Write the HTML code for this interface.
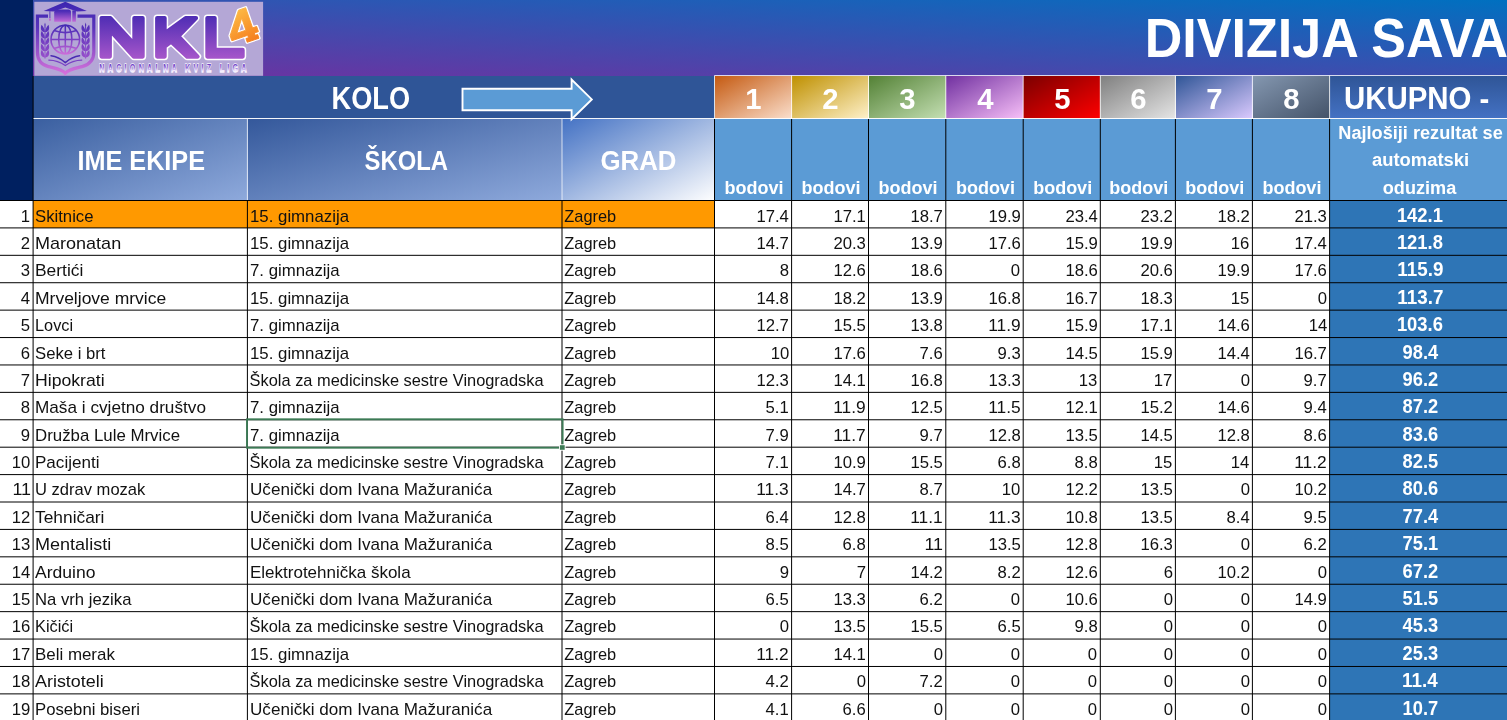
<!DOCTYPE html>
<html><head><meta charset="utf-8"><title>NKL4 - Divizija Sava</title>
<style>
html,body{margin:0;padding:0;background:#fff;}
body{width:1507px;height:720px;overflow:hidden;position:relative;font-family:"Liberation Sans",sans-serif;}
.b{position:absolute;}
.t{position:absolute;white-space:nowrap;line-height:1;display:block;}
svg.g{position:absolute;left:0;top:0;}
</style></head><body>
<div class="b" style="left:0px;top:0px;width:33px;height:201px;background:#002060;"></div>
<div class="b" style="left:33px;top:0px;width:1474px;height:76px;background:linear-gradient(to top right,#7030A0,#0070C0);"></div>
<div class="b" style="left:33px;top:76px;width:682px;height:43px;background:#2F5597;"></div>
<div class="b" style="left:33px;top:119px;width:215px;height:82px;background:linear-gradient(to bottom right,#3A5FA0,#8FAADC);"></div>
<div class="b" style="left:248px;top:119px;width:314px;height:82px;background:linear-gradient(to bottom right,#34589B,#8FAADC);"></div>
<div class="b" style="left:562px;top:119px;width:153px;height:82px;background:linear-gradient(to bottom right,#4472C4,#FFFFFF);"></div>
<div class="b" style="left:715px;top:119px;width:615px;height:82px;background:#5B9BD5;"></div>
<div class="b" style="left:1330px;top:119px;width:177px;height:82px;background:#5B9BD5;"></div>
<div class="b" style="left:715px;top:76px;width:77px;height:43px;background:linear-gradient(to bottom right,#C55A11,#FBE0CE);"></div>
<div class="b" style="left:792px;top:76px;width:77px;height:43px;background:linear-gradient(to bottom right,#BF9000,#FFF2CC);"></div>
<div class="b" style="left:869px;top:76px;width:77px;height:43px;background:linear-gradient(to bottom right,#538135,#C5E0B4);"></div>
<div class="b" style="left:946px;top:76px;width:77px;height:43px;background:linear-gradient(to bottom right,#7030A0,#F8C0F8);"></div>
<div class="b" style="left:1023px;top:76px;width:77px;height:43px;background:linear-gradient(to bottom right,#7A0000,#FF0000);"></div>
<div class="b" style="left:1100px;top:76px;width:76px;height:43px;background:linear-gradient(to bottom right,#7F7F7F,#E6E6E6);"></div>
<div class="b" style="left:1176px;top:76px;width:77px;height:43px;background:linear-gradient(to bottom right,#2F5597,#DCCBFF);"></div>
<div class="b" style="left:1253px;top:76px;width:77px;height:43px;background:linear-gradient(to bottom right,#8497B0,#435268);"></div>
<div class="b" style="left:1330px;top:76px;width:177px;height:43px;background:linear-gradient(to bottom,#2F5597,#4472C4);"></div>
<div class="b" style="left:33px;top:201px;width:682px;height:27px;background:#FF9900;"></div>
<div class="b" style="left:1330px;top:201px;width:177px;height:519px;background:#2E75B6;"></div>
<svg class="g" width="270" height="80" viewBox="0 0 270 80">
<defs>
<linearGradient id="lg" gradientUnits="userSpaceOnUse" x1="0" y1="2" x2="0" y2="75">
<stop offset="0" stop-color="#3a25b0"/><stop offset="0.35" stop-color="#5a33bb"/><stop offset="1" stop-color="#d873dc"/></linearGradient>
<linearGradient id="cg" gradientUnits="userSpaceOnUse" x1="0" y1="2" x2="0" y2="22">
<stop offset="0" stop-color="#3a25b0"/><stop offset="0.45" stop-color="#4a2bb6"/><stop offset="1" stop-color="#c46ad8"/></linearGradient>
<linearGradient id="gg" gradientUnits="userSpaceOnUse" x1="0" y1="24" x2="0" y2="55">
<stop offset="0" stop-color="#3f28b2"/><stop offset="0.5" stop-color="#7a3fc4"/><stop offset="1" stop-color="#d070da"/></linearGradient>
<linearGradient id="lfg" gradientUnits="userSpaceOnUse" x1="0" y1="22" x2="0" y2="59">
<stop offset="0" stop-color="#4a2bb6"/><stop offset="1" stop-color="#9a50cc"/></linearGradient>
<linearGradient id="ng" gradientUnits="userSpaceOnUse" x1="0" y1="14" x2="0" y2="60">
<stop offset="0" stop-color="#4a2bb3"/><stop offset="1" stop-color="#a957cb"/></linearGradient>
<linearGradient id="og" gradientUnits="userSpaceOnUse" x1="-4" y1="-17" x2="6" y2="17">
<stop offset="0" stop-color="#fdbb45"/><stop offset="1" stop-color="#f57f1f"/></linearGradient>
<linearGradient id="sg" gradientUnits="userSpaceOnUse" x1="0" y1="-8.4" x2="0" y2="0">
<stop offset="0" stop-color="#6a3cc4"/><stop offset="0.42" stop-color="#8c62d2"/><stop offset="0.78" stop-color="#e4d6f8"/><stop offset="1" stop-color="#ffffff"/></linearGradient>
</defs>
<rect x="34.3" y="1.8" width="228.8" height="74" fill="#b4a7d6"/>
<!-- shield -->
<path d="M48 16.2 L37.4 16.2 L37.4 52 C37.4 60 41.5 64.8 48.5 66.6 C55 68.2 61.5 69 65.3 73.2 C69.1 69 75.6 68.2 82.1 66.6 C89.1 64.8 93.8 60 93.8 52 L93.8 16.2 L77.5 16.2" fill="none" stroke="url(#lg)" stroke-width="3.2" stroke-linejoin="miter"/>
<!-- cap -->
<path d="M43.7 10.9 L65.3 1.7 L86.9 10.9 L77 11.6 L65.3 7.6 L53.5 11.6 Z" fill="url(#cg)"/>
<path d="M54.2 12.2 Q54.2 9.6 57 9.5 L68.5 9.5 Q71 9.6 71 12.2 L71 21.7 L54.2 21.7 Z" fill="url(#cg)"/>
<rect x="72.3" y="10.4" width="3.6" height="11.3" fill="url(#cg)"/>
<path d="M49.9 11.2 L49.9 18" stroke="url(#lg)" stroke-width="0.9"/>
<rect x="49.1" y="18.3" width="1.7" height="2.4" fill="#c060d0"/>
<!-- globe -->
<g fill="none" stroke="url(#gg)" stroke-width="1.55">
<circle cx="65.3" cy="39.5" r="14.3"/>
<ellipse cx="65.3" cy="39.5" rx="6.6" ry="14.3"/>
<path d="M65.3 25.2 L65.3 53.8"/>
<path d="M51 39.5 L79.6 39.5"/>
<path d="M54 30.6 Q65.3 34.6 76.6 30.6"/>
<path d="M54 48.4 Q65.3 44.4 76.6 48.4"/>
</g>
<!-- laurels -->
<path d="M45.0 58.6 L45.0 26.4" stroke="url(#lfg)" stroke-width="0.9" fill="none"/>
<path d="M45.0 32.07 C40.98 31.77 40.10 28.77 41.50 24.65 C42.90 26.23 44.65 28.45 45.0 32.07Z" fill="url(#lfg)"/>
<path d="M45.0 32.07 C49.02 31.77 49.90 28.77 48.50 24.65 C47.10 26.23 45.35 28.45 45.0 32.07Z" fill="url(#lfg)"/>
<path d="M45.0 38.41 C40.98 38.11 40.10 35.11 41.50 30.99 C42.90 32.57 44.65 34.79 45.0 38.41Z" fill="url(#lfg)"/>
<path d="M45.0 38.41 C49.02 38.11 49.90 35.11 48.50 30.99 C47.10 32.57 45.35 34.79 45.0 38.41Z" fill="url(#lfg)"/>
<path d="M45.0 44.75 C40.98 44.45 40.10 41.45 41.50 37.33 C42.90 38.91 44.65 41.13 45.0 44.75Z" fill="url(#lfg)"/>
<path d="M45.0 44.75 C49.02 44.45 49.90 41.45 48.50 37.33 C47.10 38.91 45.35 41.13 45.0 44.75Z" fill="url(#lfg)"/>
<path d="M45.0 51.09 C40.98 50.79 40.10 47.79 41.50 43.67 C42.90 45.25 44.65 47.47 45.0 51.09Z" fill="url(#lfg)"/>
<path d="M45.0 51.09 C49.02 50.79 49.90 47.79 48.50 43.67 C47.10 45.25 45.35 47.47 45.0 51.09Z" fill="url(#lfg)"/>
<path d="M45.0 57.43 C40.98 57.13 40.10 54.13 41.50 50.01 C42.90 51.59 44.65 53.81 45.0 57.43Z" fill="url(#lfg)"/>
<path d="M45.0 57.43 C49.02 57.13 49.90 54.13 48.50 50.01 C47.10 51.59 45.35 53.81 45.0 57.43Z" fill="url(#lfg)"/>
<path d="M45.0 27.9 Q43.5 25.4 45.0 22.599999999999998 Q46.5 25.4 45.0 27.9Z" fill="url(#lfg)"/>
<path d="M85.6 58.6 L85.6 26.4" stroke="url(#lfg)" stroke-width="0.9" fill="none"/>
<path d="M85.6 32.07 C81.57 31.77 80.70 28.77 82.10 24.65 C83.50 26.23 85.25 28.45 85.6 32.07Z" fill="url(#lfg)"/>
<path d="M85.6 32.07 C89.62 31.77 90.50 28.77 89.10 24.65 C87.70 26.23 85.95 28.45 85.6 32.07Z" fill="url(#lfg)"/>
<path d="M85.6 38.41 C81.57 38.11 80.70 35.11 82.10 30.99 C83.50 32.57 85.25 34.79 85.6 38.41Z" fill="url(#lfg)"/>
<path d="M85.6 38.41 C89.62 38.11 90.50 35.11 89.10 30.99 C87.70 32.57 85.95 34.79 85.6 38.41Z" fill="url(#lfg)"/>
<path d="M85.6 44.75 C81.57 44.45 80.70 41.45 82.10 37.33 C83.50 38.91 85.25 41.13 85.6 44.75Z" fill="url(#lfg)"/>
<path d="M85.6 44.75 C89.62 44.45 90.50 41.45 89.10 37.33 C87.70 38.91 85.95 41.13 85.6 44.75Z" fill="url(#lfg)"/>
<path d="M85.6 51.09 C81.57 50.79 80.70 47.79 82.10 43.67 C83.50 45.25 85.25 47.47 85.6 51.09Z" fill="url(#lfg)"/>
<path d="M85.6 51.09 C89.62 50.79 90.50 47.79 89.10 43.67 C87.70 45.25 85.95 47.47 85.6 51.09Z" fill="url(#lfg)"/>
<path d="M85.6 57.43 C81.57 57.13 80.70 54.13 82.10 50.01 C83.50 51.59 85.25 53.81 85.6 57.43Z" fill="url(#lfg)"/>
<path d="M85.6 57.43 C89.62 57.13 90.50 54.13 89.10 50.01 C87.70 51.59 85.95 53.81 85.6 57.43Z" fill="url(#lfg)"/>
<path d="M85.6 27.9 Q84.1 25.4 85.6 22.599999999999998 Q87.1 25.4 85.6 27.9Z" fill="url(#lfg)"/>
<!-- book -->
<g fill="none" stroke-linecap="round">
<path d="M51 55.8 Q58.5 56.8 65.3 62.6 Q72.1 56.8 79.6 55.8" stroke="#4a2bb3" stroke-width="1.4"/>
<path d="M48.8 60.1 Q58 60.2 65.3 65.6 Q72.6 60.2 81.8 60.1" stroke="#7a40c4" stroke-width="1.2"/>
</g>
<!-- NKL -->
<g stroke-linejoin="round">
<g fill="#fff" stroke="#fff" stroke-width="7.2">
<path id="pN" d="M101.6 56.6 L101.6 18.1 L110.4 18.1 L134.4 44.5 L134.4 18.1 L142.6 18.1 L142.6 56.6 L133.8 56.6 L109.8 30.2 L109.8 56.6 Z"/>
<path id="pK" d="M157.2 18.1 L164.6 18.1 L164.6 33.5 L185.6 18.1 L196 18.1 L178.3 36.3 L197.6 56.6 L187.2 56.6 L171.2 41.6 L164.6 46.6 L164.6 56.6 L157.2 56.6 Z"/>
<path id="pL" d="M207.4 18.1 L214.6 18.1 L214.6 49.9 L242.6 49.9 L242.6 56.6 L207.4 56.6 Z"/>
</g>
<g fill="url(#ng)" stroke="url(#ng)" stroke-width="4.2">
<use href="#pN"/><use href="#pK"/><use href="#pL"/>
</g>
</g>
<!-- 4 -->
<g transform="translate(241.4 27.0) rotate(-19) scale(1.08 0.99)">
<path id="p4" d="M2.5 -17 L9.5 -17 L9.5 4.5 L13.5 4.5 L13.5 10 L9.5 10 L9.5 12.5 L12 12.5 L12 16.5 L0.5 16.5 L0.5 12.5 L3 12.5 L3 10 L-12.5 10 L-12.5 4.6 Z M3 4.5 L3 -8.5 L-5.8 4.5 Z" fill="#fff" stroke="#fff" stroke-width="3.2" stroke-linejoin="round" fill-rule="evenodd"/>
<path d="M2.5 -17 L9.5 -17 L9.5 4.5 L13.5 4.5 L13.5 10 L9.5 10 L9.5 12.5 L12 12.5 L12 16.5 L0.5 16.5 L0.5 12.5 L3 12.5 L3 10 L-12.5 10 L-12.5 4.6 Z M3 4.5 L3 -8.5 L-5.8 4.5 Z" fill="url(#og)" stroke="url(#og)" stroke-width="0.8" stroke-linejoin="round" fill-rule="evenodd"/>
</g>
<!-- subtitle -->
<g transform="translate(99.3 72.2) scale(0.62 1)">
<text x="0" y="0" font-family="Liberation Sans, sans-serif" font-weight="bold" font-size="11.6" textLength="237.5" lengthAdjust="spacing" fill="url(#sg)" stroke="#f6f1fd" stroke-width="1.5" paint-order="stroke" xml:space="preserve">NACIONALNA KVIZ LIGA</text>
</g>
</svg>
<svg class="g" width="1507" height="720" viewBox="0 0 1507 720">
<line x1="33.1" y1="76" x2="33.1" y2="720" stroke="#000" stroke-width="1" stroke-opacity="1"/>
<line x1="247.4" y1="200" x2="247.4" y2="720" stroke="#000" stroke-width="1" stroke-opacity="1"/>
<line x1="562.0" y1="200" x2="562.0" y2="720" stroke="#000" stroke-width="1" stroke-opacity="1"/>
<line x1="714.5" y1="119" x2="714.5" y2="720" stroke="#000" stroke-width="1" stroke-opacity="1"/>
<line x1="791.6" y1="119" x2="791.6" y2="720" stroke="#000" stroke-width="1" stroke-opacity="1"/>
<line x1="868.5" y1="119" x2="868.5" y2="720" stroke="#000" stroke-width="1" stroke-opacity="1"/>
<line x1="945.8" y1="119" x2="945.8" y2="720" stroke="#000" stroke-width="1" stroke-opacity="1"/>
<line x1="1023.2" y1="119" x2="1023.2" y2="720" stroke="#000" stroke-width="1" stroke-opacity="1"/>
<line x1="1100.3" y1="119" x2="1100.3" y2="720" stroke="#000" stroke-width="1" stroke-opacity="1"/>
<line x1="1175.4" y1="119" x2="1175.4" y2="720" stroke="#000" stroke-width="1" stroke-opacity="1"/>
<line x1="1252.4" y1="119" x2="1252.4" y2="720" stroke="#000" stroke-width="1" stroke-opacity="1"/>
<line x1="1329.6" y1="119" x2="1329.6" y2="720" stroke="#000" stroke-width="1" stroke-opacity="1"/>
<line x1="0" y1="200.5" x2="1507" y2="200.5" stroke="#000" stroke-width="1" stroke-opacity="1"/>
<line x1="0" y1="227.91" x2="1507" y2="227.91" stroke="#000" stroke-width="1" stroke-opacity="1"/>
<line x1="0" y1="255.32" x2="1507" y2="255.32" stroke="#000" stroke-width="1" stroke-opacity="1"/>
<line x1="0" y1="282.73" x2="1507" y2="282.73" stroke="#000" stroke-width="1" stroke-opacity="1"/>
<line x1="0" y1="310.14" x2="1507" y2="310.14" stroke="#000" stroke-width="1" stroke-opacity="1"/>
<line x1="0" y1="337.55" x2="1507" y2="337.55" stroke="#000" stroke-width="1" stroke-opacity="1"/>
<line x1="0" y1="364.96000000000004" x2="1507" y2="364.96000000000004" stroke="#000" stroke-width="1" stroke-opacity="1"/>
<line x1="0" y1="392.37" x2="1507" y2="392.37" stroke="#000" stroke-width="1" stroke-opacity="1"/>
<line x1="0" y1="419.78" x2="1507" y2="419.78" stroke="#000" stroke-width="1" stroke-opacity="1"/>
<line x1="0" y1="447.19" x2="1507" y2="447.19" stroke="#000" stroke-width="1" stroke-opacity="1"/>
<line x1="0" y1="474.6" x2="1507" y2="474.6" stroke="#000" stroke-width="1" stroke-opacity="1"/>
<line x1="0" y1="502.01" x2="1507" y2="502.01" stroke="#000" stroke-width="1" stroke-opacity="1"/>
<line x1="0" y1="529.4200000000001" x2="1507" y2="529.4200000000001" stroke="#000" stroke-width="1" stroke-opacity="1"/>
<line x1="0" y1="556.8299999999999" x2="1507" y2="556.8299999999999" stroke="#000" stroke-width="1" stroke-opacity="1"/>
<line x1="0" y1="584.24" x2="1507" y2="584.24" stroke="#000" stroke-width="1" stroke-opacity="1"/>
<line x1="0" y1="611.65" x2="1507" y2="611.65" stroke="#000" stroke-width="1" stroke-opacity="1"/>
<line x1="0" y1="639.06" x2="1507" y2="639.06" stroke="#000" stroke-width="1" stroke-opacity="1"/>
<line x1="0" y1="666.47" x2="1507" y2="666.47" stroke="#000" stroke-width="1" stroke-opacity="1"/>
<line x1="0" y1="693.88" x2="1507" y2="693.88" stroke="#000" stroke-width="1" stroke-opacity="1"/>
<line x1="0" y1="721.29" x2="1507" y2="721.29" stroke="#000" stroke-width="1" stroke-opacity="1"/>
<line x1="33.5" y1="118.5" x2="1507" y2="118.5" stroke="#fff" stroke-width="1" stroke-opacity="0.95"/>
<line x1="714.5" y1="75.5" x2="1507" y2="75.5" stroke="#fff" stroke-width="1" stroke-opacity="0.8"/>
<line x1="714.5" y1="75.5" x2="714.5" y2="119" stroke="#fff" stroke-width="1" stroke-opacity="0.82"/>
<line x1="791.6" y1="75.5" x2="791.6" y2="119" stroke="#fff" stroke-width="1" stroke-opacity="0.82"/>
<line x1="868.5" y1="75.5" x2="868.5" y2="119" stroke="#fff" stroke-width="1" stroke-opacity="0.82"/>
<line x1="945.8" y1="75.5" x2="945.8" y2="119" stroke="#fff" stroke-width="1" stroke-opacity="0.82"/>
<line x1="1023.2" y1="75.5" x2="1023.2" y2="119" stroke="#fff" stroke-width="1" stroke-opacity="0.82"/>
<line x1="1100.3" y1="75.5" x2="1100.3" y2="119" stroke="#fff" stroke-width="1" stroke-opacity="0.82"/>
<line x1="1175.4" y1="75.5" x2="1175.4" y2="119" stroke="#fff" stroke-width="1" stroke-opacity="0.82"/>
<line x1="1252.4" y1="75.5" x2="1252.4" y2="119" stroke="#fff" stroke-width="1" stroke-opacity="0.82"/>
<line x1="1329.6" y1="75.5" x2="1329.6" y2="119" stroke="#fff" stroke-width="1" stroke-opacity="0.82"/>
<line x1="247.4" y1="119" x2="247.4" y2="200" stroke="#fff" stroke-width="1" stroke-opacity="0.75"/>
<line x1="562.0" y1="119" x2="562.0" y2="200" stroke="#fff" stroke-width="1" stroke-opacity="0.75"/>
<rect x="247.0" y="419.3" width="315.6" height="28.4" fill="none" stroke="#3c7a55" stroke-width="1.9"/>
<rect x="559.0" y="444.3" width="6.6" height="6.4" fill="#fff"/>
<rect x="559.9" y="445.2" width="4.8" height="4.6" fill="#3c7a55"/>
<path d="M462.5 88.8 L571.6 88.8 L571.6 79.5 L591.8 99.4 L571.6 119.3 L571.6 110.2 L462.5 110.2 Z" fill="#5B9BD5" stroke="#fff" stroke-width="1.9" stroke-linejoin="miter"/>
</svg>
<div id="tx" style="position:absolute;left:0;top:0;width:1507px;height:720px;will-change:transform;">
<span class="t" style="right:1476.40px;transform-origin:100% 0;top:208px;font-size:16.4px;color:#111;transform:scaleX(1.0185);">1</span>
<span class="t" style="left:35.10px;transform-origin:0 0;top:208px;font-size:16.4px;color:#111;transform:scaleX(1.0193);">Skitnice</span>
<span class="t" style="left:249.60px;transform-origin:0 0;top:208px;font-size:16.4px;color:#111;transform:scaleX(1.0253);">15. gimnazija</span>
<span class="t" style="left:564.30px;transform-origin:0 0;top:208px;font-size:16.4px;color:#111;">Zagreb</span>
<span class="t" style="right:718.10px;transform-origin:100% 0;top:208px;font-size:16.4px;color:#111;transform:scaleX(1.0181);">17.4</span>
<span class="t" style="right:641.20px;transform-origin:100% 0;top:208px;font-size:16.4px;color:#111;transform:scaleX(1.0181);">17.1</span>
<span class="t" style="right:563.90px;transform-origin:100% 0;top:208px;font-size:16.4px;color:#111;transform:scaleX(1.0181);">18.7</span>
<span class="t" style="right:486.50px;transform-origin:100% 0;top:208px;font-size:16.4px;color:#111;transform:scaleX(1.0181);">19.9</span>
<span class="t" style="right:409.40px;transform-origin:100% 0;top:208px;font-size:16.4px;color:#111;transform:scaleX(1.0181);">23.4</span>
<span class="t" style="right:334.30px;transform-origin:100% 0;top:208px;font-size:16.4px;color:#111;transform:scaleX(1.0181);">23.2</span>
<span class="t" style="right:257.30px;transform-origin:100% 0;top:208px;font-size:16.4px;color:#111;transform:scaleX(1.0181);">18.2</span>
<span class="t" style="right:180.10px;transform-origin:100% 0;top:208px;font-size:16.4px;color:#111;transform:scaleX(1.0181);">21.3</span>
<span class="t" style="left:1395.30px;transform-origin:50% 0;top:206px;font-size:19.9px;color:#fff;font-weight:bold;transform:scaleX(0.9237);">142.1</span>
<span class="t" style="right:1476.40px;transform-origin:100% 0;top:235px;font-size:16.4px;color:#111;transform:scaleX(1.0185);">2</span>
<span class="t" style="left:35.10px;transform-origin:0 0;top:235px;font-size:16.4px;color:#111;transform:scaleX(1.0995);">Maronatan</span>
<span class="t" style="left:249.60px;transform-origin:0 0;top:235px;font-size:16.4px;color:#111;transform:scaleX(1.0253);">15. gimnazija</span>
<span class="t" style="left:564.30px;transform-origin:0 0;top:235px;font-size:16.4px;color:#111;">Zagreb</span>
<span class="t" style="right:718.10px;transform-origin:100% 0;top:235px;font-size:16.4px;color:#111;transform:scaleX(1.0181);">14.7</span>
<span class="t" style="right:641.20px;transform-origin:100% 0;top:235px;font-size:16.4px;color:#111;transform:scaleX(1.0181);">20.3</span>
<span class="t" style="right:563.90px;transform-origin:100% 0;top:235px;font-size:16.4px;color:#111;transform:scaleX(1.0181);">13.9</span>
<span class="t" style="right:486.50px;transform-origin:100% 0;top:235px;font-size:16.4px;color:#111;transform:scaleX(1.0181);">17.6</span>
<span class="t" style="right:409.40px;transform-origin:100% 0;top:235px;font-size:16.4px;color:#111;transform:scaleX(1.0181);">15.9</span>
<span class="t" style="right:334.30px;transform-origin:100% 0;top:235px;font-size:16.4px;color:#111;transform:scaleX(1.0181);">19.9</span>
<span class="t" style="right:257.30px;transform-origin:100% 0;top:235px;font-size:16.4px;color:#111;transform:scaleX(1.0185);">16</span>
<span class="t" style="right:180.10px;transform-origin:100% 0;top:235px;font-size:16.4px;color:#111;transform:scaleX(1.0181);">17.4</span>
<span class="t" style="left:1395.30px;transform-origin:50% 0;top:233px;font-size:19.9px;color:#fff;font-weight:bold;transform:scaleX(0.9237);">121.8</span>
<span class="t" style="right:1476.40px;transform-origin:100% 0;top:262px;font-size:16.4px;color:#111;transform:scaleX(1.0185);">3</span>
<span class="t" style="left:35.10px;transform-origin:0 0;top:262px;font-size:16.4px;color:#111;transform:scaleX(1.0619);">Bertići</span>
<span class="t" style="left:249.60px;transform-origin:0 0;top:262px;font-size:16.4px;color:#111;transform:scaleX(1.0247);">7. gimnazija</span>
<span class="t" style="left:564.30px;transform-origin:0 0;top:262px;font-size:16.4px;color:#111;">Zagreb</span>
<span class="t" style="right:718.10px;transform-origin:100% 0;top:262px;font-size:16.4px;color:#111;transform:scaleX(1.0185);">8</span>
<span class="t" style="right:641.20px;transform-origin:100% 0;top:262px;font-size:16.4px;color:#111;transform:scaleX(1.0181);">12.6</span>
<span class="t" style="right:563.90px;transform-origin:100% 0;top:262px;font-size:16.4px;color:#111;transform:scaleX(1.0181);">18.6</span>
<span class="t" style="right:486.50px;transform-origin:100% 0;top:262px;font-size:16.4px;color:#111;transform:scaleX(1.0185);">0</span>
<span class="t" style="right:409.40px;transform-origin:100% 0;top:262px;font-size:16.4px;color:#111;transform:scaleX(1.0181);">18.6</span>
<span class="t" style="right:334.30px;transform-origin:100% 0;top:262px;font-size:16.4px;color:#111;transform:scaleX(1.0181);">20.6</span>
<span class="t" style="right:257.30px;transform-origin:100% 0;top:262px;font-size:16.4px;color:#111;transform:scaleX(1.0181);">19.9</span>
<span class="t" style="right:180.10px;transform-origin:100% 0;top:262px;font-size:16.4px;color:#111;transform:scaleX(1.0181);">17.6</span>
<span class="t" style="left:1395.85px;transform-origin:50% 0;top:260px;font-size:19.9px;color:#fff;font-weight:bold;transform:scaleX(0.9445);">115.9</span>
<span class="t" style="right:1476.40px;transform-origin:100% 0;top:290px;font-size:16.4px;color:#111;transform:scaleX(1.0185);">4</span>
<span class="t" style="left:35.10px;transform-origin:0 0;top:290px;font-size:16.4px;color:#111;transform:scaleX(1.0671);">Mrveljove mrvice</span>
<span class="t" style="left:249.60px;transform-origin:0 0;top:290px;font-size:16.4px;color:#111;transform:scaleX(1.0253);">15. gimnazija</span>
<span class="t" style="left:564.30px;transform-origin:0 0;top:290px;font-size:16.4px;color:#111;">Zagreb</span>
<span class="t" style="right:718.10px;transform-origin:100% 0;top:290px;font-size:16.4px;color:#111;transform:scaleX(1.0181);">14.8</span>
<span class="t" style="right:641.20px;transform-origin:100% 0;top:290px;font-size:16.4px;color:#111;transform:scaleX(1.0181);">18.2</span>
<span class="t" style="right:563.90px;transform-origin:100% 0;top:290px;font-size:16.4px;color:#111;transform:scaleX(1.0181);">13.9</span>
<span class="t" style="right:486.50px;transform-origin:100% 0;top:290px;font-size:16.4px;color:#111;transform:scaleX(1.0181);">16.8</span>
<span class="t" style="right:409.40px;transform-origin:100% 0;top:290px;font-size:16.4px;color:#111;transform:scaleX(1.0181);">16.7</span>
<span class="t" style="right:334.30px;transform-origin:100% 0;top:290px;font-size:16.4px;color:#111;transform:scaleX(1.0181);">18.3</span>
<span class="t" style="right:257.30px;transform-origin:100% 0;top:290px;font-size:16.4px;color:#111;transform:scaleX(1.0185);">15</span>
<span class="t" style="right:180.10px;transform-origin:100% 0;top:290px;font-size:16.4px;color:#111;transform:scaleX(1.0185);">0</span>
<span class="t" style="left:1395.85px;transform-origin:50% 0;top:288px;font-size:19.9px;color:#fff;font-weight:bold;transform:scaleX(0.9445);">113.7</span>
<span class="t" style="right:1476.40px;transform-origin:100% 0;top:317px;font-size:16.4px;color:#111;transform:scaleX(1.0185);">5</span>
<span class="t" style="left:35.10px;transform-origin:0 0;top:317px;font-size:16.4px;color:#111;transform:scaleX(0.9946);">Lovci</span>
<span class="t" style="left:249.60px;transform-origin:0 0;top:317px;font-size:16.4px;color:#111;transform:scaleX(1.0247);">7. gimnazija</span>
<span class="t" style="left:564.30px;transform-origin:0 0;top:317px;font-size:16.4px;color:#111;">Zagreb</span>
<span class="t" style="right:718.10px;transform-origin:100% 0;top:317px;font-size:16.4px;color:#111;transform:scaleX(1.0181);">12.7</span>
<span class="t" style="right:641.20px;transform-origin:100% 0;top:317px;font-size:16.4px;color:#111;transform:scaleX(1.0181);">15.5</span>
<span class="t" style="right:563.90px;transform-origin:100% 0;top:317px;font-size:16.4px;color:#111;transform:scaleX(1.0181);">13.8</span>
<span class="t" style="right:486.50px;transform-origin:100% 0;top:317px;font-size:16.4px;color:#111;transform:scaleX(1.0585);">11.9</span>
<span class="t" style="right:409.40px;transform-origin:100% 0;top:317px;font-size:16.4px;color:#111;transform:scaleX(1.0181);">15.9</span>
<span class="t" style="right:334.30px;transform-origin:100% 0;top:317px;font-size:16.4px;color:#111;transform:scaleX(1.0181);">17.1</span>
<span class="t" style="right:257.30px;transform-origin:100% 0;top:317px;font-size:16.4px;color:#111;transform:scaleX(1.0181);">14.6</span>
<span class="t" style="right:180.10px;transform-origin:100% 0;top:317px;font-size:16.4px;color:#111;transform:scaleX(1.0185);">14</span>
<span class="t" style="left:1395.30px;transform-origin:50% 0;top:315px;font-size:19.9px;color:#fff;font-weight:bold;transform:scaleX(0.9237);">103.6</span>
<span class="t" style="right:1476.40px;transform-origin:100% 0;top:345px;font-size:16.4px;color:#111;transform:scaleX(1.0185);">6</span>
<span class="t" style="left:35.10px;transform-origin:0 0;top:345px;font-size:16.4px;color:#111;transform:scaleX(1.0180);">Seke i brt</span>
<span class="t" style="left:249.60px;transform-origin:0 0;top:345px;font-size:16.4px;color:#111;transform:scaleX(1.0253);">15. gimnazija</span>
<span class="t" style="left:564.30px;transform-origin:0 0;top:345px;font-size:16.4px;color:#111;">Zagreb</span>
<span class="t" style="right:718.10px;transform-origin:100% 0;top:345px;font-size:16.4px;color:#111;transform:scaleX(1.0185);">10</span>
<span class="t" style="right:641.20px;transform-origin:100% 0;top:345px;font-size:16.4px;color:#111;transform:scaleX(1.0181);">17.6</span>
<span class="t" style="right:563.90px;transform-origin:100% 0;top:345px;font-size:16.4px;color:#111;transform:scaleX(1.0180);">7.6</span>
<span class="t" style="right:486.50px;transform-origin:100% 0;top:345px;font-size:16.4px;color:#111;transform:scaleX(1.0180);">9.3</span>
<span class="t" style="right:409.40px;transform-origin:100% 0;top:345px;font-size:16.4px;color:#111;transform:scaleX(1.0181);">14.5</span>
<span class="t" style="right:334.30px;transform-origin:100% 0;top:345px;font-size:16.4px;color:#111;transform:scaleX(1.0181);">15.9</span>
<span class="t" style="right:257.30px;transform-origin:100% 0;top:345px;font-size:16.4px;color:#111;transform:scaleX(1.0181);">14.4</span>
<span class="t" style="right:180.10px;transform-origin:100% 0;top:345px;font-size:16.4px;color:#111;transform:scaleX(1.0181);">16.7</span>
<span class="t" style="left:1400.83px;transform-origin:50% 0;top:343px;font-size:19.9px;color:#fff;font-weight:bold;transform:scaleX(0.9191);">98.4</span>
<span class="t" style="right:1476.40px;transform-origin:100% 0;top:372px;font-size:16.4px;color:#111;transform:scaleX(1.0185);">7</span>
<span class="t" style="left:35.10px;transform-origin:0 0;top:372px;font-size:16.4px;color:#111;transform:scaleX(1.0761);">Hipokrati</span>
<span class="t" style="left:249.60px;transform-origin:0 0;top:372px;font-size:16.4px;color:#111;">Škola za medicinske sestre Vinogradska</span>
<span class="t" style="left:564.30px;transform-origin:0 0;top:372px;font-size:16.4px;color:#111;">Zagreb</span>
<span class="t" style="right:718.10px;transform-origin:100% 0;top:372px;font-size:16.4px;color:#111;transform:scaleX(1.0181);">12.3</span>
<span class="t" style="right:641.20px;transform-origin:100% 0;top:372px;font-size:16.4px;color:#111;transform:scaleX(1.0181);">14.1</span>
<span class="t" style="right:563.90px;transform-origin:100% 0;top:372px;font-size:16.4px;color:#111;transform:scaleX(1.0181);">16.8</span>
<span class="t" style="right:486.50px;transform-origin:100% 0;top:372px;font-size:16.4px;color:#111;transform:scaleX(1.0181);">13.3</span>
<span class="t" style="right:409.40px;transform-origin:100% 0;top:372px;font-size:16.4px;color:#111;transform:scaleX(1.0185);">13</span>
<span class="t" style="right:334.30px;transform-origin:100% 0;top:372px;font-size:16.4px;color:#111;transform:scaleX(1.0185);">17</span>
<span class="t" style="right:257.30px;transform-origin:100% 0;top:372px;font-size:16.4px;color:#111;transform:scaleX(1.0185);">0</span>
<span class="t" style="right:180.10px;transform-origin:100% 0;top:372px;font-size:16.4px;color:#111;transform:scaleX(1.0180);">9.7</span>
<span class="t" style="left:1400.83px;transform-origin:50% 0;top:370px;font-size:19.9px;color:#fff;font-weight:bold;transform:scaleX(0.9191);">96.2</span>
<span class="t" style="right:1476.40px;transform-origin:100% 0;top:399px;font-size:16.4px;color:#111;transform:scaleX(1.0185);">8</span>
<span class="t" style="left:35.10px;transform-origin:0 0;top:399px;font-size:16.4px;color:#111;transform:scaleX(1.0483);">Maša i cvjetno društvo</span>
<span class="t" style="left:249.60px;transform-origin:0 0;top:399px;font-size:16.4px;color:#111;transform:scaleX(1.0247);">7. gimnazija</span>
<span class="t" style="left:564.30px;transform-origin:0 0;top:399px;font-size:16.4px;color:#111;">Zagreb</span>
<span class="t" style="right:718.10px;transform-origin:100% 0;top:399px;font-size:16.4px;color:#111;transform:scaleX(1.0180);">5.1</span>
<span class="t" style="right:641.20px;transform-origin:100% 0;top:399px;font-size:16.4px;color:#111;transform:scaleX(1.0585);">11.9</span>
<span class="t" style="right:563.90px;transform-origin:100% 0;top:399px;font-size:16.4px;color:#111;transform:scaleX(1.0181);">12.5</span>
<span class="t" style="right:486.50px;transform-origin:100% 0;top:399px;font-size:16.4px;color:#111;transform:scaleX(1.0585);">11.5</span>
<span class="t" style="right:409.40px;transform-origin:100% 0;top:399px;font-size:16.4px;color:#111;transform:scaleX(1.0181);">12.1</span>
<span class="t" style="right:334.30px;transform-origin:100% 0;top:399px;font-size:16.4px;color:#111;transform:scaleX(1.0181);">15.2</span>
<span class="t" style="right:257.30px;transform-origin:100% 0;top:399px;font-size:16.4px;color:#111;transform:scaleX(1.0181);">14.6</span>
<span class="t" style="right:180.10px;transform-origin:100% 0;top:399px;font-size:16.4px;color:#111;transform:scaleX(1.0180);">9.4</span>
<span class="t" style="left:1400.83px;transform-origin:50% 0;top:397px;font-size:19.9px;color:#fff;font-weight:bold;transform:scaleX(0.9191);">87.2</span>
<span class="t" style="right:1476.40px;transform-origin:100% 0;top:427px;font-size:16.4px;color:#111;transform:scaleX(1.0185);">9</span>
<span class="t" style="left:35.10px;transform-origin:0 0;top:427px;font-size:16.4px;color:#111;transform:scaleX(1.0272);">Družba Lule Mrvice</span>
<span class="t" style="left:249.60px;transform-origin:0 0;top:427px;font-size:16.4px;color:#111;transform:scaleX(1.0247);">7. gimnazija</span>
<span class="t" style="left:564.30px;transform-origin:0 0;top:427px;font-size:16.4px;color:#111;">Zagreb</span>
<span class="t" style="right:718.10px;transform-origin:100% 0;top:427px;font-size:16.4px;color:#111;transform:scaleX(1.0180);">7.9</span>
<span class="t" style="right:641.20px;transform-origin:100% 0;top:427px;font-size:16.4px;color:#111;transform:scaleX(1.0585);">11.7</span>
<span class="t" style="right:563.90px;transform-origin:100% 0;top:427px;font-size:16.4px;color:#111;transform:scaleX(1.0180);">9.7</span>
<span class="t" style="right:486.50px;transform-origin:100% 0;top:427px;font-size:16.4px;color:#111;transform:scaleX(1.0181);">12.8</span>
<span class="t" style="right:409.40px;transform-origin:100% 0;top:427px;font-size:16.4px;color:#111;transform:scaleX(1.0181);">13.5</span>
<span class="t" style="right:334.30px;transform-origin:100% 0;top:427px;font-size:16.4px;color:#111;transform:scaleX(1.0181);">14.5</span>
<span class="t" style="right:257.30px;transform-origin:100% 0;top:427px;font-size:16.4px;color:#111;transform:scaleX(1.0181);">12.8</span>
<span class="t" style="right:180.10px;transform-origin:100% 0;top:427px;font-size:16.4px;color:#111;transform:scaleX(1.0180);">8.6</span>
<span class="t" style="left:1400.83px;transform-origin:50% 0;top:425px;font-size:19.9px;color:#fff;font-weight:bold;transform:scaleX(0.9191);">83.6</span>
<span class="t" style="right:1476.40px;transform-origin:100% 0;top:454px;font-size:16.4px;color:#111;transform:scaleX(1.0185);">10</span>
<span class="t" style="left:35.10px;transform-origin:0 0;top:454px;font-size:16.4px;color:#111;transform:scaleX(1.0403);">Pacijenti</span>
<span class="t" style="left:249.60px;transform-origin:0 0;top:454px;font-size:16.4px;color:#111;">Škola za medicinske sestre Vinogradska</span>
<span class="t" style="left:564.30px;transform-origin:0 0;top:454px;font-size:16.4px;color:#111;">Zagreb</span>
<span class="t" style="right:718.10px;transform-origin:100% 0;top:454px;font-size:16.4px;color:#111;transform:scaleX(1.0180);">7.1</span>
<span class="t" style="right:641.20px;transform-origin:100% 0;top:454px;font-size:16.4px;color:#111;transform:scaleX(1.0181);">10.9</span>
<span class="t" style="right:563.90px;transform-origin:100% 0;top:454px;font-size:16.4px;color:#111;transform:scaleX(1.0181);">15.5</span>
<span class="t" style="right:486.50px;transform-origin:100% 0;top:454px;font-size:16.4px;color:#111;transform:scaleX(1.0180);">6.8</span>
<span class="t" style="right:409.40px;transform-origin:100% 0;top:454px;font-size:16.4px;color:#111;transform:scaleX(1.0180);">8.8</span>
<span class="t" style="right:334.30px;transform-origin:100% 0;top:454px;font-size:16.4px;color:#111;transform:scaleX(1.0185);">15</span>
<span class="t" style="right:257.30px;transform-origin:100% 0;top:454px;font-size:16.4px;color:#111;transform:scaleX(1.0185);">14</span>
<span class="t" style="right:180.10px;transform-origin:100% 0;top:454px;font-size:16.4px;color:#111;transform:scaleX(1.0585);">11.2</span>
<span class="t" style="left:1400.83px;transform-origin:50% 0;top:452px;font-size:19.9px;color:#fff;font-weight:bold;transform:scaleX(0.9191);">82.5</span>
<span class="t" style="right:1476.40px;transform-origin:100% 0;top:481px;font-size:16.4px;color:#111;transform:scaleX(1.0914);">11</span>
<span class="t" style="left:35.10px;transform-origin:0 0;top:481px;font-size:16.4px;color:#111;transform:scaleX(1.0095);">U zdrav mozak</span>
<span class="t" style="left:249.60px;transform-origin:0 0;top:481px;font-size:16.4px;color:#111;transform:scaleX(1.0423);">Učenički dom Ivana Mažuranića</span>
<span class="t" style="left:564.30px;transform-origin:0 0;top:481px;font-size:16.4px;color:#111;">Zagreb</span>
<span class="t" style="right:718.10px;transform-origin:100% 0;top:481px;font-size:16.4px;color:#111;transform:scaleX(1.0585);">11.3</span>
<span class="t" style="right:641.20px;transform-origin:100% 0;top:481px;font-size:16.4px;color:#111;transform:scaleX(1.0181);">14.7</span>
<span class="t" style="right:563.90px;transform-origin:100% 0;top:481px;font-size:16.4px;color:#111;transform:scaleX(1.0180);">8.7</span>
<span class="t" style="right:486.50px;transform-origin:100% 0;top:481px;font-size:16.4px;color:#111;transform:scaleX(1.0185);">10</span>
<span class="t" style="right:409.40px;transform-origin:100% 0;top:481px;font-size:16.4px;color:#111;transform:scaleX(1.0181);">12.2</span>
<span class="t" style="right:334.30px;transform-origin:100% 0;top:481px;font-size:16.4px;color:#111;transform:scaleX(1.0181);">13.5</span>
<span class="t" style="right:257.30px;transform-origin:100% 0;top:481px;font-size:16.4px;color:#111;transform:scaleX(1.0185);">0</span>
<span class="t" style="right:180.10px;transform-origin:100% 0;top:481px;font-size:16.4px;color:#111;transform:scaleX(1.0181);">10.2</span>
<span class="t" style="left:1400.83px;transform-origin:50% 0;top:479px;font-size:19.9px;color:#fff;font-weight:bold;transform:scaleX(0.9191);">80.6</span>
<span class="t" style="right:1476.40px;transform-origin:100% 0;top:509px;font-size:16.4px;color:#111;transform:scaleX(1.0185);">12</span>
<span class="t" style="left:35.10px;transform-origin:0 0;top:509px;font-size:16.4px;color:#111;transform:scaleX(1.0590);">Tehničari</span>
<span class="t" style="left:249.60px;transform-origin:0 0;top:509px;font-size:16.4px;color:#111;transform:scaleX(1.0423);">Učenički dom Ivana Mažuranića</span>
<span class="t" style="left:564.30px;transform-origin:0 0;top:509px;font-size:16.4px;color:#111;">Zagreb</span>
<span class="t" style="right:718.10px;transform-origin:100% 0;top:509px;font-size:16.4px;color:#111;transform:scaleX(1.0180);">6.4</span>
<span class="t" style="right:641.20px;transform-origin:100% 0;top:509px;font-size:16.4px;color:#111;transform:scaleX(1.0181);">12.8</span>
<span class="t" style="right:563.90px;transform-origin:100% 0;top:509px;font-size:16.4px;color:#111;transform:scaleX(1.0585);">11.1</span>
<span class="t" style="right:486.50px;transform-origin:100% 0;top:509px;font-size:16.4px;color:#111;transform:scaleX(1.0585);">11.3</span>
<span class="t" style="right:409.40px;transform-origin:100% 0;top:509px;font-size:16.4px;color:#111;transform:scaleX(1.0181);">10.8</span>
<span class="t" style="right:334.30px;transform-origin:100% 0;top:509px;font-size:16.4px;color:#111;transform:scaleX(1.0181);">13.5</span>
<span class="t" style="right:257.30px;transform-origin:100% 0;top:509px;font-size:16.4px;color:#111;transform:scaleX(1.0180);">8.4</span>
<span class="t" style="right:180.10px;transform-origin:100% 0;top:509px;font-size:16.4px;color:#111;transform:scaleX(1.0180);">9.5</span>
<span class="t" style="left:1400.83px;transform-origin:50% 0;top:507px;font-size:19.9px;color:#fff;font-weight:bold;transform:scaleX(0.9191);">77.4</span>
<span class="t" style="right:1476.40px;transform-origin:100% 0;top:536px;font-size:16.4px;color:#111;transform:scaleX(1.0185);">13</span>
<span class="t" style="left:35.10px;transform-origin:0 0;top:536px;font-size:16.4px;color:#111;transform:scaleX(1.1003);">Mentalisti</span>
<span class="t" style="left:249.60px;transform-origin:0 0;top:536px;font-size:16.4px;color:#111;transform:scaleX(1.0423);">Učenički dom Ivana Mažuranića</span>
<span class="t" style="left:564.30px;transform-origin:0 0;top:536px;font-size:16.4px;color:#111;">Zagreb</span>
<span class="t" style="right:718.10px;transform-origin:100% 0;top:536px;font-size:16.4px;color:#111;transform:scaleX(1.0180);">8.5</span>
<span class="t" style="right:641.20px;transform-origin:100% 0;top:536px;font-size:16.4px;color:#111;transform:scaleX(1.0180);">6.8</span>
<span class="t" style="right:563.90px;transform-origin:100% 0;top:536px;font-size:16.4px;color:#111;transform:scaleX(1.0914);">11</span>
<span class="t" style="right:486.50px;transform-origin:100% 0;top:536px;font-size:16.4px;color:#111;transform:scaleX(1.0181);">13.5</span>
<span class="t" style="right:409.40px;transform-origin:100% 0;top:536px;font-size:16.4px;color:#111;transform:scaleX(1.0181);">12.8</span>
<span class="t" style="right:334.30px;transform-origin:100% 0;top:536px;font-size:16.4px;color:#111;transform:scaleX(1.0181);">16.3</span>
<span class="t" style="right:257.30px;transform-origin:100% 0;top:536px;font-size:16.4px;color:#111;transform:scaleX(1.0185);">0</span>
<span class="t" style="right:180.10px;transform-origin:100% 0;top:536px;font-size:16.4px;color:#111;transform:scaleX(1.0180);">6.2</span>
<span class="t" style="left:1400.83px;transform-origin:50% 0;top:534px;font-size:19.9px;color:#fff;font-weight:bold;transform:scaleX(0.9191);">75.1</span>
<span class="t" style="right:1476.40px;transform-origin:100% 0;top:564px;font-size:16.4px;color:#111;transform:scaleX(1.0185);">14</span>
<span class="t" style="left:35.10px;transform-origin:0 0;top:564px;font-size:16.4px;color:#111;transform:scaleX(1.0704);">Arduino</span>
<span class="t" style="left:249.60px;transform-origin:0 0;top:564px;font-size:16.4px;color:#111;transform:scaleX(1.0369);">Elektrotehnička škola</span>
<span class="t" style="left:564.30px;transform-origin:0 0;top:564px;font-size:16.4px;color:#111;">Zagreb</span>
<span class="t" style="right:718.10px;transform-origin:100% 0;top:564px;font-size:16.4px;color:#111;transform:scaleX(1.0185);">9</span>
<span class="t" style="right:641.20px;transform-origin:100% 0;top:564px;font-size:16.4px;color:#111;transform:scaleX(1.0185);">7</span>
<span class="t" style="right:563.90px;transform-origin:100% 0;top:564px;font-size:16.4px;color:#111;transform:scaleX(1.0181);">14.2</span>
<span class="t" style="right:486.50px;transform-origin:100% 0;top:564px;font-size:16.4px;color:#111;transform:scaleX(1.0180);">8.2</span>
<span class="t" style="right:409.40px;transform-origin:100% 0;top:564px;font-size:16.4px;color:#111;transform:scaleX(1.0181);">12.6</span>
<span class="t" style="right:334.30px;transform-origin:100% 0;top:564px;font-size:16.4px;color:#111;transform:scaleX(1.0185);">6</span>
<span class="t" style="right:257.30px;transform-origin:100% 0;top:564px;font-size:16.4px;color:#111;transform:scaleX(1.0181);">10.2</span>
<span class="t" style="right:180.10px;transform-origin:100% 0;top:564px;font-size:16.4px;color:#111;transform:scaleX(1.0185);">0</span>
<span class="t" style="left:1400.83px;transform-origin:50% 0;top:562px;font-size:19.9px;color:#fff;font-weight:bold;transform:scaleX(0.9191);">67.2</span>
<span class="t" style="right:1476.40px;transform-origin:100% 0;top:591px;font-size:16.4px;color:#111;transform:scaleX(1.0185);">15</span>
<span class="t" style="left:35.10px;transform-origin:0 0;top:591px;font-size:16.4px;color:#111;transform:scaleX(1.0176);">Na vrh jezika</span>
<span class="t" style="left:249.60px;transform-origin:0 0;top:591px;font-size:16.4px;color:#111;transform:scaleX(1.0423);">Učenički dom Ivana Mažuranića</span>
<span class="t" style="left:564.30px;transform-origin:0 0;top:591px;font-size:16.4px;color:#111;">Zagreb</span>
<span class="t" style="right:718.10px;transform-origin:100% 0;top:591px;font-size:16.4px;color:#111;transform:scaleX(1.0180);">6.5</span>
<span class="t" style="right:641.20px;transform-origin:100% 0;top:591px;font-size:16.4px;color:#111;transform:scaleX(1.0181);">13.3</span>
<span class="t" style="right:563.90px;transform-origin:100% 0;top:591px;font-size:16.4px;color:#111;transform:scaleX(1.0180);">6.2</span>
<span class="t" style="right:486.50px;transform-origin:100% 0;top:591px;font-size:16.4px;color:#111;transform:scaleX(1.0185);">0</span>
<span class="t" style="right:409.40px;transform-origin:100% 0;top:591px;font-size:16.4px;color:#111;transform:scaleX(1.0181);">10.6</span>
<span class="t" style="right:334.30px;transform-origin:100% 0;top:591px;font-size:16.4px;color:#111;transform:scaleX(1.0185);">0</span>
<span class="t" style="right:257.30px;transform-origin:100% 0;top:591px;font-size:16.4px;color:#111;transform:scaleX(1.0185);">0</span>
<span class="t" style="right:180.10px;transform-origin:100% 0;top:591px;font-size:16.4px;color:#111;transform:scaleX(1.0181);">14.9</span>
<span class="t" style="left:1400.83px;transform-origin:50% 0;top:589px;font-size:19.9px;color:#fff;font-weight:bold;transform:scaleX(0.9191);">51.5</span>
<span class="t" style="right:1476.40px;transform-origin:100% 0;top:618px;font-size:16.4px;color:#111;transform:scaleX(1.0185);">16</span>
<span class="t" style="left:35.10px;transform-origin:0 0;top:618px;font-size:16.4px;color:#111;transform:scaleX(0.9960);">Kičići</span>
<span class="t" style="left:249.60px;transform-origin:0 0;top:618px;font-size:16.4px;color:#111;">Škola za medicinske sestre Vinogradska</span>
<span class="t" style="left:564.30px;transform-origin:0 0;top:618px;font-size:16.4px;color:#111;">Zagreb</span>
<span class="t" style="right:718.10px;transform-origin:100% 0;top:618px;font-size:16.4px;color:#111;transform:scaleX(1.0185);">0</span>
<span class="t" style="right:641.20px;transform-origin:100% 0;top:618px;font-size:16.4px;color:#111;transform:scaleX(1.0181);">13.5</span>
<span class="t" style="right:563.90px;transform-origin:100% 0;top:618px;font-size:16.4px;color:#111;transform:scaleX(1.0181);">15.5</span>
<span class="t" style="right:486.50px;transform-origin:100% 0;top:618px;font-size:16.4px;color:#111;transform:scaleX(1.0180);">6.5</span>
<span class="t" style="right:409.40px;transform-origin:100% 0;top:618px;font-size:16.4px;color:#111;transform:scaleX(1.0180);">9.8</span>
<span class="t" style="right:334.30px;transform-origin:100% 0;top:618px;font-size:16.4px;color:#111;transform:scaleX(1.0185);">0</span>
<span class="t" style="right:257.30px;transform-origin:100% 0;top:618px;font-size:16.4px;color:#111;transform:scaleX(1.0185);">0</span>
<span class="t" style="right:180.10px;transform-origin:100% 0;top:618px;font-size:16.4px;color:#111;transform:scaleX(1.0185);">0</span>
<span class="t" style="left:1400.83px;transform-origin:50% 0;top:616px;font-size:19.9px;color:#fff;font-weight:bold;transform:scaleX(0.9191);">45.3</span>
<span class="t" style="right:1476.40px;transform-origin:100% 0;top:646px;font-size:16.4px;color:#111;transform:scaleX(1.0185);">17</span>
<span class="t" style="left:35.10px;transform-origin:0 0;top:646px;font-size:16.4px;color:#111;transform:scaleX(1.0314);">Beli merak</span>
<span class="t" style="left:249.60px;transform-origin:0 0;top:646px;font-size:16.4px;color:#111;transform:scaleX(1.0253);">15. gimnazija</span>
<span class="t" style="left:564.30px;transform-origin:0 0;top:646px;font-size:16.4px;color:#111;">Zagreb</span>
<span class="t" style="right:718.10px;transform-origin:100% 0;top:646px;font-size:16.4px;color:#111;transform:scaleX(1.0585);">11.2</span>
<span class="t" style="right:641.20px;transform-origin:100% 0;top:646px;font-size:16.4px;color:#111;transform:scaleX(1.0181);">14.1</span>
<span class="t" style="right:563.90px;transform-origin:100% 0;top:646px;font-size:16.4px;color:#111;transform:scaleX(1.0185);">0</span>
<span class="t" style="right:486.50px;transform-origin:100% 0;top:646px;font-size:16.4px;color:#111;transform:scaleX(1.0185);">0</span>
<span class="t" style="right:409.40px;transform-origin:100% 0;top:646px;font-size:16.4px;color:#111;transform:scaleX(1.0185);">0</span>
<span class="t" style="right:334.30px;transform-origin:100% 0;top:646px;font-size:16.4px;color:#111;transform:scaleX(1.0185);">0</span>
<span class="t" style="right:257.30px;transform-origin:100% 0;top:646px;font-size:16.4px;color:#111;transform:scaleX(1.0185);">0</span>
<span class="t" style="right:180.10px;transform-origin:100% 0;top:646px;font-size:16.4px;color:#111;transform:scaleX(1.0185);">0</span>
<span class="t" style="left:1400.83px;transform-origin:50% 0;top:644px;font-size:19.9px;color:#fff;font-weight:bold;transform:scaleX(0.9191);">25.3</span>
<span class="t" style="right:1476.40px;transform-origin:100% 0;top:673px;font-size:16.4px;color:#111;transform:scaleX(1.0185);">18</span>
<span class="t" style="left:35.10px;transform-origin:0 0;top:673px;font-size:16.4px;color:#111;transform:scaleX(1.0925);">Aristoteli</span>
<span class="t" style="left:249.60px;transform-origin:0 0;top:673px;font-size:16.4px;color:#111;">Škola za medicinske sestre Vinogradska</span>
<span class="t" style="left:564.30px;transform-origin:0 0;top:673px;font-size:16.4px;color:#111;">Zagreb</span>
<span class="t" style="right:718.10px;transform-origin:100% 0;top:673px;font-size:16.4px;color:#111;transform:scaleX(1.0180);">4.2</span>
<span class="t" style="right:641.20px;transform-origin:100% 0;top:673px;font-size:16.4px;color:#111;transform:scaleX(1.0185);">0</span>
<span class="t" style="right:563.90px;transform-origin:100% 0;top:673px;font-size:16.4px;color:#111;transform:scaleX(1.0180);">7.2</span>
<span class="t" style="right:486.50px;transform-origin:100% 0;top:673px;font-size:16.4px;color:#111;transform:scaleX(1.0185);">0</span>
<span class="t" style="right:409.40px;transform-origin:100% 0;top:673px;font-size:16.4px;color:#111;transform:scaleX(1.0185);">0</span>
<span class="t" style="right:334.30px;transform-origin:100% 0;top:673px;font-size:16.4px;color:#111;transform:scaleX(1.0185);">0</span>
<span class="t" style="right:257.30px;transform-origin:100% 0;top:673px;font-size:16.4px;color:#111;transform:scaleX(1.0185);">0</span>
<span class="t" style="right:180.10px;transform-origin:100% 0;top:673px;font-size:16.4px;color:#111;transform:scaleX(1.0185);">0</span>
<span class="t" style="left:1401.38px;transform-origin:50% 0;top:671px;font-size:19.9px;color:#fff;font-weight:bold;transform:scaleX(0.9459);">11.4</span>
<span class="t" style="right:1476.40px;transform-origin:100% 0;top:701px;font-size:16.4px;color:#111;transform:scaleX(1.0185);">19</span>
<span class="t" style="left:35.10px;transform-origin:0 0;top:701px;font-size:16.4px;color:#111;transform:scaleX(1.0199);">Posebni biseri</span>
<span class="t" style="left:249.60px;transform-origin:0 0;top:701px;font-size:16.4px;color:#111;transform:scaleX(1.0423);">Učenički dom Ivana Mažuranića</span>
<span class="t" style="left:564.30px;transform-origin:0 0;top:701px;font-size:16.4px;color:#111;">Zagreb</span>
<span class="t" style="right:718.10px;transform-origin:100% 0;top:701px;font-size:16.4px;color:#111;transform:scaleX(1.0180);">4.1</span>
<span class="t" style="right:641.20px;transform-origin:100% 0;top:701px;font-size:16.4px;color:#111;transform:scaleX(1.0180);">6.6</span>
<span class="t" style="right:563.90px;transform-origin:100% 0;top:701px;font-size:16.4px;color:#111;transform:scaleX(1.0185);">0</span>
<span class="t" style="right:486.50px;transform-origin:100% 0;top:701px;font-size:16.4px;color:#111;transform:scaleX(1.0185);">0</span>
<span class="t" style="right:409.40px;transform-origin:100% 0;top:701px;font-size:16.4px;color:#111;transform:scaleX(1.0185);">0</span>
<span class="t" style="right:334.30px;transform-origin:100% 0;top:701px;font-size:16.4px;color:#111;transform:scaleX(1.0185);">0</span>
<span class="t" style="right:257.30px;transform-origin:100% 0;top:701px;font-size:16.4px;color:#111;transform:scaleX(1.0185);">0</span>
<span class="t" style="right:180.10px;transform-origin:100% 0;top:701px;font-size:16.4px;color:#111;transform:scaleX(1.0185);">0</span>
<span class="t" style="left:1400.83px;transform-origin:50% 0;top:699px;font-size:19.9px;color:#fff;font-weight:bold;transform:scaleX(0.9191);">10.7</span>
<span class="t" style="right:-1.00px;transform-origin:100% 0;top:12px;font-size:54.6px;color:#fff;font-weight:bold;transform:scaleX(0.9534);">DIVIZIJA SAVA</span>
<span class="t" style="left:325.73px;transform-origin:50% 0;top:83px;font-size:31.0px;color:#fff;font-weight:bold;transform:scaleX(0.8766);">KOLO</span>
<span class="t" style="left:69.80px;transform-origin:50% 0;top:146px;font-size:28.2px;color:#fff;font-weight:bold;transform:scaleX(0.8941);">IME EKIPE</span>
<span class="t" style="left:356.65px;transform-origin:50% 0;top:146px;font-size:28.2px;color:#fff;font-weight:bold;transform:scaleX(0.8460);">ŠKOLA</span>
<span class="t" style="left:597.28px;transform-origin:50% 0;top:146px;font-size:28.2px;color:#fff;font-weight:bold;transform:scaleX(0.9153);">GRAD</span>
<span class="t" style="left:745.31px;transform-origin:50% 0;top:84px;font-size:30.0px;color:#fff;font-weight:bold;transform:scaleX(0.9769);">1</span>
<span class="t" style="left:724.45px;transform-origin:50% 0;top:179px;font-size:18.0px;color:#fff;font-weight:bold;">bodovi</span>
<span class="t" style="left:822.31px;transform-origin:50% 0;top:84px;font-size:30.0px;color:#fff;font-weight:bold;transform:scaleX(0.9769);">2</span>
<span class="t" style="left:801.45px;transform-origin:50% 0;top:179px;font-size:18.0px;color:#fff;font-weight:bold;">bodovi</span>
<span class="t" style="left:899.41px;transform-origin:50% 0;top:84px;font-size:30.0px;color:#fff;font-weight:bold;transform:scaleX(0.9769);">3</span>
<span class="t" style="left:878.55px;transform-origin:50% 0;top:179px;font-size:18.0px;color:#fff;font-weight:bold;">bodovi</span>
<span class="t" style="left:976.76px;transform-origin:50% 0;top:84px;font-size:30.0px;color:#fff;font-weight:bold;transform:scaleX(0.9769);">4</span>
<span class="t" style="left:955.90px;transform-origin:50% 0;top:179px;font-size:18.0px;color:#fff;font-weight:bold;">bodovi</span>
<span class="t" style="left:1054.01px;transform-origin:50% 0;top:84px;font-size:30.0px;color:#fff;font-weight:bold;transform:scaleX(0.9769);">5</span>
<span class="t" style="left:1033.15px;transform-origin:50% 0;top:179px;font-size:18.0px;color:#fff;font-weight:bold;">bodovi</span>
<span class="t" style="left:1130.11px;transform-origin:50% 0;top:84px;font-size:30.0px;color:#fff;font-weight:bold;transform:scaleX(0.9769);">6</span>
<span class="t" style="left:1109.25px;transform-origin:50% 0;top:179px;font-size:18.0px;color:#fff;font-weight:bold;">bodovi</span>
<span class="t" style="left:1206.16px;transform-origin:50% 0;top:84px;font-size:30.0px;color:#fff;font-weight:bold;transform:scaleX(0.9769);">7</span>
<span class="t" style="left:1185.30px;transform-origin:50% 0;top:179px;font-size:18.0px;color:#fff;font-weight:bold;">bodovi</span>
<span class="t" style="left:1283.26px;transform-origin:50% 0;top:84px;font-size:30.0px;color:#fff;font-weight:bold;transform:scaleX(0.9769);">8</span>
<span class="t" style="left:1262.40px;transform-origin:50% 0;top:179px;font-size:18.0px;color:#fff;font-weight:bold;">bodovi</span>
<span class="t" style="left:1339.66px;transform-origin:50% 0;top:83px;font-size:31.0px;color:#fff;font-weight:bold;transform:scaleX(0.9493);">UKUPNO -</span>
<span class="t" style="left:1338.67px;transform-origin:50% 0;top:124px;font-size:18.0px;color:#fff;font-weight:bold;transform:scaleX(1.0089);">Najlošiji rezultat se</span>
<span class="t" style="left:1372.78px;transform-origin:50% 0;top:151px;font-size:18.0px;color:#fff;font-weight:bold;transform:scaleX(1.0228);">automatski</span>
<span class="t" style="left:1383.30px;transform-origin:50% 0;top:179px;font-size:18.0px;color:#fff;font-weight:bold;transform:scaleX(1.0054);">oduzima</span>
</div>
</body></html>
